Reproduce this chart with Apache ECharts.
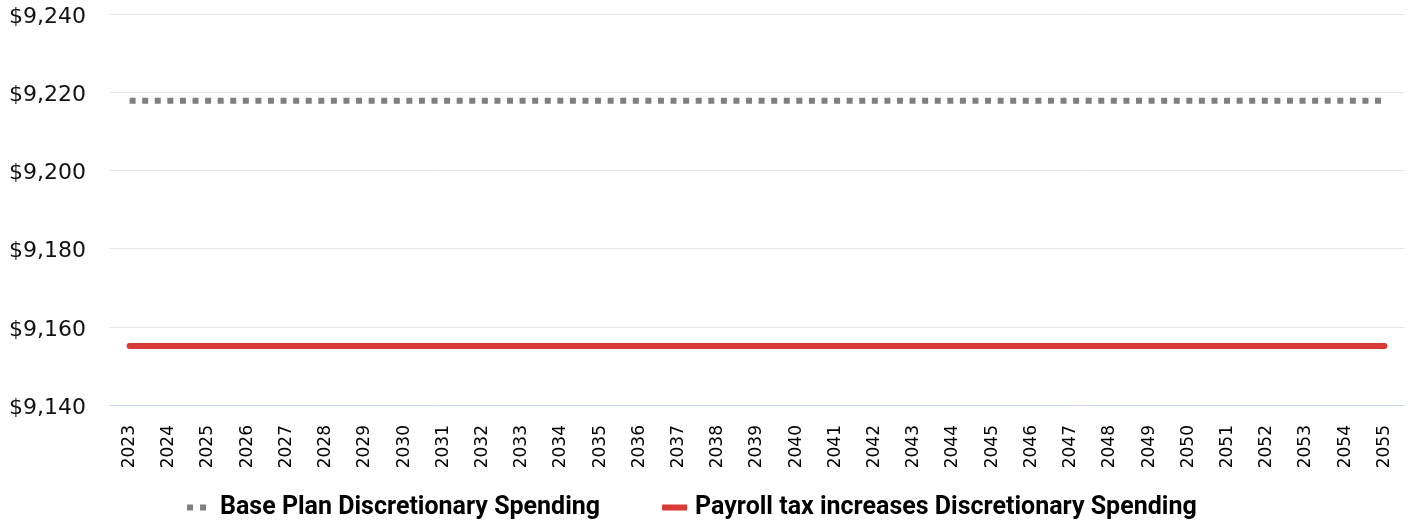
<!DOCTYPE html>
<html>
<head>
<meta charset="utf-8">
<style>
  html, body { margin: 0; padding: 0; background: #ffffff; }
  #chart { width: 1413px; height: 522px; }
</style>
<script src="https://cdn.jsdelivr.net/npm/echarts@6/dist/echarts.min.js"></script>
</head>
<body>
<div id="chart"></div>
<script>
// Years on the horizontal axis
const years = ['2023','2024','2025','2026','2027','2028','2029','2030','2031','2032','2033',
  '2034','2035','2036','2037','2038','2039','2040','2041','2042','2043','2044','2045','2046',
  '2047','2048','2049','2050','2051','2052','2053','2054','2055'];

// Discretionary spending under each plan
const basePlan = [9217.8,9217.8,9217.8,9217.8,9217.8,9217.8,9217.8,9217.8,9217.8,9217.8,9217.8,
  9217.8,9217.8,9217.8,9217.8,9217.8,9217.8,9217.8,9217.8,9217.8,9217.8,9217.8,9217.8,9217.8,
  9217.8,9217.8,9217.8,9217.8,9217.8,9217.8,9217.8,9217.8,9217.8];
const payrollTax = [9155.1,9155.1,9155.1,9155.1,9155.1,9155.1,9155.1,9155.1,9155.1,9155.1,9155.1,
  9155.1,9155.1,9155.1,9155.1,9155.1,9155.1,9155.1,9155.1,9155.1,9155.1,9155.1,9155.1,9155.1,
  9155.1,9155.1,9155.1,9155.1,9155.1,9155.1,9155.1,9155.1,9155.1];

// Value axis range
const yMin = 9140;
const yMax = 9240;
const yStep = 20;

const seriesNames = ['Base Plan Discretionary Spending', 'Payroll tax increases Discretionary Spending'];
const baseColor = '#7f7f7f';
const payrollColor = '#d93a36';

const chart = echarts.init(document.getElementById('chart'), null, { renderer: 'canvas' });

chart.setOption({
  animation: false,
  backgroundColor: '#ffffff',
  grid: { left: 110, right: 9, top: 14, bottom: 117, containLabel: false },
  legend: {
    left: 182,
    top: 490,
    itemWidth: 25,
    itemHeight: 6,
    itemGap: 62,
    textStyle: {
      fontFamily: 'Roboto',
      fontWeight: 'bold',
      fontSize: 25,
      color: '#000000',
      padding: [0, 0, 0, 3]
    },
    data: [
      {
        name: seriesNames[0],
        // two square dots, like the dotted line
        icon: 'path://M0,0h6v6h-6zM13,0h6v6h-6zM25,0L25,6',
        itemStyle: { color: baseColor, borderWidth: 0 }
      },
      {
        name: seriesNames[1],
        icon: 'rect',
        itemStyle: { color: payrollColor, borderWidth: 0 }
      }
    ]
  },
  xAxis: {
    type: 'category',
    data: years,
    boundaryGap: true,
    axisLine: { lineStyle: { color: '#ccd6eb', width: 1 } },
    axisTick: { show: false },
    axisLabel: {
      rotate: 90,
      margin: 20,
      interval: 0,
      fontFamily: 'DejaVu Sans',
      fontSize: 17,
      color: '#000000'
    },
    splitLine: { show: false }
  },
  yAxis: {
    type: 'value',
    min: yMin,
    max: yMax,
    interval: yStep,
    axisLine: { show: false },
    axisTick: { show: false },
    axisLabel: {
      margin: 24,
      fontFamily: 'DejaVu Sans',
      fontSize: 22,
      color: '#111111',
      verticalAlign: 'top',
      lineHeight: 6,
      formatter: v => '$' + v.toLocaleString('en-US')
    },
    splitLine: { lineStyle: { color: '#e6e6e6', width: 1 } }
  },
  series: [
    {
      name: seriesNames[0],
      type: 'line',
      data: basePlan,
      symbol: 'none',
      lineStyle: { color: baseColor, width: 6, type: [6, 6.58], cap: 'butt' },
      itemStyle: { color: baseColor }
    },
    {
      name: seriesNames[1],
      type: 'line',
      data: payrollTax,
      symbol: 'none',
      lineStyle: { color: payrollColor, width: 6, cap: 'round' },
      itemStyle: { color: payrollColor }
    }
  ]
});
</script>
</body>
</html>
